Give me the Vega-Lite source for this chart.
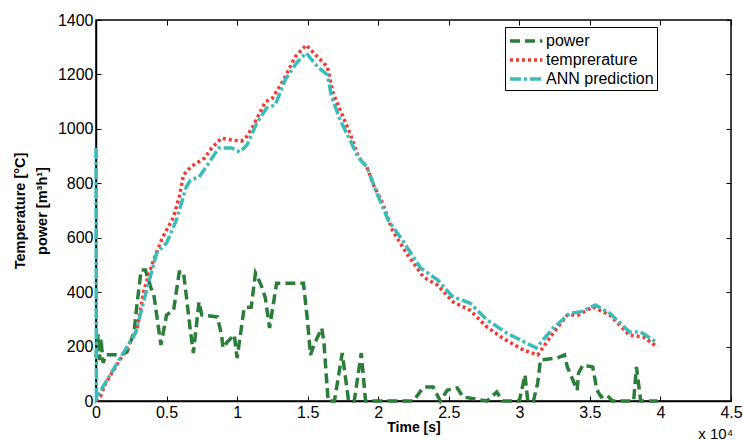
{
  "$schema": "https://vega.github.io/schema/vega-lite/v6.json",
  "width": 635,
  "height": 381,
  "autosize": {"type": "none"},
  "padding": {"left": 96, "top": 20, "right": 12, "bottom": 40},
  "background": "white",
  "config": {
    "font": "Liberation Sans",
    "view": {"stroke": "black", "strokeWidth": 1.5},
    "axis": {"grid": false, "domainColor": "black", "domainWidth": 1.5, "tickColor": "black", "labelColor": "black", "titleColor": "black"}
  },
  "title": {"text": "x 10\u2074", "orient": "bottom", "anchor": "end", "fontSize": 15, "fontWeight": "normal", "offset": -7, "dx": -9, "color": "black"},
  "data": {"values": [
    {"s":"power","t":0.0,"v":160},{"s":"power","t":0.015,"v":245},{"s":"power","t":0.025,"v":150},{"s":"power","t":0.035,"v":230},{"s":"power","t":0.05,"v":140},{"s":"power","t":0.07,"v":170},{"s":"power","t":0.18,"v":170},{"s":"power","t":0.22,"v":180},{"s":"power","t":0.27,"v":254},{"s":"power","t":0.29,"v":353},{"s":"power","t":0.32,"v":481},{"s":"power","t":0.35,"v":481},{"s":"power","t":0.39,"v":415},{"s":"power","t":0.41,"v":390},{"s":"power","t":0.46,"v":206},{"s":"power","t":0.50,"v":316},{"s":"power","t":0.55,"v":334},{"s":"power","t":0.59,"v":474},{"s":"power","t":0.62,"v":474},{"s":"power","t":0.67,"v":254},{"s":"power","t":0.69,"v":176},{"s":"power","t":0.73,"v":364},{"s":"power","t":0.75,"v":316},{"s":"power","t":0.86,"v":309},{"s":"power","t":0.89,"v":243},{"s":"power","t":0.90,"v":195},{"s":"power","t":0.93,"v":217},{"s":"power","t":0.98,"v":243},{"s":"power","t":1.00,"v":158},{"s":"power","t":1.05,"v":342},{"s":"power","t":1.10,"v":345},{"s":"power","t":1.13,"v":470},{"s":"power","t":1.17,"v":426},{"s":"power","t":1.20,"v":379},{"s":"power","t":1.23,"v":268},{"s":"power","t":1.28,"v":433},{"s":"power","t":1.47,"v":433},{"s":"power","t":1.50,"v":290},{"s":"power","t":1.52,"v":169},{"s":"power","t":1.55,"v":213},{"s":"power","t":1.60,"v":268},{"s":"power","t":1.615,"v":217},{"s":"power","t":1.645,"v":0},{"s":"power","t":1.69,"v":0},{"s":"power","t":1.745,"v":176},{"s":"power","t":1.79,"v":0},{"s":"power","t":1.83,"v":0},{"s":"power","t":1.88,"v":176},{"s":"power","t":1.91,"v":0},{"s":"power","t":2.25,"v":0},{"s":"power","t":2.32,"v":51},{"s":"power","t":2.39,"v":51},{"s":"power","t":2.44,"v":0},{"s":"power","t":2.49,"v":40},{"s":"power","t":2.56,"v":48},{"s":"power","t":2.60,"v":15},{"s":"power","t":2.77,"v":0},{"s":"power","t":2.84,"v":33},{"s":"power","t":2.88,"v":0},{"s":"power","t":3.00,"v":0},{"s":"power","t":3.04,"v":96},{"s":"power","t":3.06,"v":0},{"s":"power","t":3.10,"v":0},{"s":"power","t":3.13,"v":66},{"s":"power","t":3.15,"v":151},{"s":"power","t":3.27,"v":158},{"s":"power","t":3.32,"v":169},{"s":"power","t":3.34,"v":125},{"s":"power","t":3.41,"v":40},{"s":"power","t":3.42,"v":103},{"s":"power","t":3.45,"v":132},{"s":"power","t":3.52,"v":125},{"s":"power","t":3.55,"v":40},{"s":"power","t":3.58,"v":15},{"s":"power","t":3.62,"v":22},{"s":"power","t":3.66,"v":0},{"s":"power","t":3.81,"v":0},{"s":"power","t":3.83,"v":125},{"s":"power","t":3.86,"v":0},{"s":"power","t":3.98,"v":0},
    {"s":"temprerature","t":0.0,"v":0},{"s":"temprerature","t":0.03,"v":16},{"s":"temprerature","t":0.07,"v":66},{"s":"temprerature","t":0.18,"v":160},{"s":"temprerature","t":0.29,"v":261},{"s":"temprerature","t":0.34,"v":408},{"s":"temprerature","t":0.40,"v":507},{"s":"temprerature","t":0.47,"v":599},{"s":"temprerature","t":0.55,"v":676},{"s":"temprerature","t":0.59,"v":750},{"s":"temprerature","t":0.62,"v":830},{"s":"temprerature","t":0.67,"v":860},{"s":"temprerature","t":0.77,"v":893},{"s":"temprerature","t":0.82,"v":930},{"s":"temprerature","t":0.89,"v":966},{"s":"temprerature","t":0.96,"v":959},{"s":"temprerature","t":1.03,"v":955},{"s":"temprerature","t":1.06,"v":966},{"s":"temprerature","t":1.11,"v":1007},{"s":"temprerature","t":1.20,"v":1099},{"s":"temprerature","t":1.25,"v":1113},{"s":"temprerature","t":1.33,"v":1180},{"s":"temprerature","t":1.41,"v":1264},{"s":"temprerature","t":1.49,"v":1308},{"s":"temprerature","t":1.57,"v":1264},{"s":"temprerature","t":1.64,"v":1228},{"s":"temprerature","t":1.68,"v":1132},{"s":"temprerature","t":1.76,"v":1033},{"s":"temprerature","t":1.81,"v":970},{"s":"temprerature","t":1.86,"v":897},{"s":"temprerature","t":1.92,"v":860},{"s":"temprerature","t":1.96,"v":801},{"s":"temprerature","t":2.03,"v":727},{"s":"temprerature","t":2.10,"v":628},{"s":"temprerature","t":2.20,"v":543},{"s":"temprerature","t":2.32,"v":456},{"s":"temprerature","t":2.42,"v":426},{"s":"temprerature","t":2.53,"v":364},{"s":"temprerature","t":2.65,"v":334},{"s":"temprerature","t":2.77,"v":272},{"s":"temprerature","t":2.88,"v":232},{"s":"temprerature","t":3.03,"v":187},{"s":"temprerature","t":3.13,"v":169},{"s":"temprerature","t":3.24,"v":250},{"s":"temprerature","t":3.34,"v":316},{"s":"temprerature","t":3.42,"v":316},{"s":"temprerature","t":3.52,"v":346},{"s":"temprerature","t":3.64,"v":316},{"s":"temprerature","t":3.78,"v":242},{"s":"temprerature","t":3.88,"v":235},{"s":"temprerature","t":3.98,"v":198},
    {"s":"ANN prediction","t":0.0,"v":930},{"s":"ANN prediction","t":0.003,"v":10},{"s":"ANN prediction","t":0.07,"v":70},{"s":"ANN prediction","t":0.18,"v":165},{"s":"ANN prediction","t":0.28,"v":250},{"s":"ANN prediction","t":0.35,"v":390},{"s":"ANN prediction","t":0.43,"v":544},{"s":"ANN prediction","t":0.50,"v":581},{"s":"ANN prediction","t":0.57,"v":665},{"s":"ANN prediction","t":0.64,"v":787},{"s":"ANN prediction","t":0.67,"v":812},{"s":"ANN prediction","t":0.73,"v":823},{"s":"ANN prediction","t":0.79,"v":867},{"s":"ANN prediction","t":0.87,"v":930},{"s":"ANN prediction","t":0.96,"v":930},{"s":"ANN prediction","t":1.02,"v":915},{"s":"ANN prediction","t":1.07,"v":941},{"s":"ANN prediction","t":1.14,"v":1022},{"s":"ANN prediction","t":1.21,"v":1077},{"s":"ANN prediction","t":1.27,"v":1088},{"s":"ANN prediction","t":1.34,"v":1180},{"s":"ANN prediction","t":1.42,"v":1242},{"s":"ANN prediction","t":1.49,"v":1279},{"s":"ANN prediction","t":1.57,"v":1228},{"s":"ANN prediction","t":1.64,"v":1198},{"s":"ANN prediction","t":1.67,"v":1117},{"s":"ANN prediction","t":1.73,"v":1033},{"s":"ANN prediction","t":1.81,"v":948},{"s":"ANN prediction","t":1.86,"v":893},{"s":"ANN prediction","t":1.92,"v":860},{"s":"ANN prediction","t":1.99,"v":764},{"s":"ANN prediction","t":2.07,"v":665},{"s":"ANN prediction","t":2.18,"v":584},{"s":"ANN prediction","t":2.30,"v":489},{"s":"ANN prediction","t":2.42,"v":445},{"s":"ANN prediction","t":2.53,"v":382},{"s":"ANN prediction","t":2.65,"v":360},{"s":"ANN prediction","t":2.77,"v":298},{"s":"ANN prediction","t":2.91,"v":250},{"s":"ANN prediction","t":3.05,"v":213},{"s":"ANN prediction","t":3.12,"v":195},{"s":"ANN prediction","t":3.24,"v":268},{"s":"ANN prediction","t":3.36,"v":323},{"s":"ANN prediction","t":3.43,"v":327},{"s":"ANN prediction","t":3.54,"v":353},{"s":"ANN prediction","t":3.64,"v":323},{"s":"ANN prediction","t":3.78,"v":254},{"s":"ANN prediction","t":3.86,"v":254},{"s":"ANN prediction","t":3.98,"v":213}
  ]},
  "encoding": {
    "x": {"field": "t", "type": "quantitative", "scale": {"domain": [0, 4.5], "nice": false, "zero": false}},
    "y": {"field": "v", "type": "quantitative", "scale": {"domain": [0, 1400], "nice": false}},
    "color": {"field": "s", "type": "nominal", "scale": {"domain": ["power", "temprerature", "ANN prediction"], "range": ["#2b7e38", "#f23a33", "#3bbcbb"]}, "legend": null},
    "strokeDash": {"field": "s", "type": "nominal", "scale": {"domain": ["power", "temprerature", "ANN prediction"], "range": [[10, 5], [3, 3], [11, 3, 3, 3]]}, "legend": null}
  },
  "layer": [
    {
      "transform": [{"filter": "datum.s === 'power'"}],
      "mark": {"type": "line", "strokeWidth": 3.5, "strokeCap": "butt"},
      "encoding": {
        "x": {"field": "t", "type": "quantitative", "axis": {"orient": "bottom", "title": "Time [s]", "titleFontSize": 14, "titleFontWeight": "bold", "titlePadding": 0, "labelFontSize": 16, "tickSize": -5, "labelPadding": 8, "values": [0, 0.5, 1, 1.5, 2, 2.5, 3, 3.5, 4, 4.5], "labelExpr": "datum.value", "labelFlush": false, "labelOverlap": false}},
        "y": {"field": "v", "type": "quantitative", "axis": {"orient": "left", "title": ["Temperature [\u00b0C]", "power [m\u00b3h\u00b9]"], "titleFontSize": 14.5, "titleFontWeight": "bold", "titleLineHeight": 22, "titlePadding": 8, "labelFontSize": 16, "tickSize": -5, "labelPadding": 8, "values": [0, 200, 400, 600, 800, 1000, 1200, 1400], "labelExpr": "datum.value", "labelFlush": false, "labelOverlap": false}},
        "color": {"field": "s", "type": "nominal", "scale": {"domain": ["power", "temprerature", "ANN prediction"], "range": ["#2b7e38", "#f23a33", "#3bbcbb"]}, "legend": {"title": null, "orient": "none", "legendX": 409, "legendY": 7, "strokeColor": "black", "fillColor": "white", "padding": 3, "symbolType": "M-1,0H2.6", "symbolSize": 324, "symbolStrokeWidth": 3.5, "labelFontSize": 16, "labelColor": "black", "labelOffset": 16, "rowPadding": 0, "cornerRadius": 0}},
        "strokeDash": {"field": "s", "type": "nominal", "scale": {"domain": ["power", "temprerature", "ANN prediction"], "range": [[10, 5], [3, 3], [11, 3, 3, 3]]}, "legend": {"title": null, "orient": "none", "legendX": 409, "legendY": 7, "strokeColor": "black", "fillColor": "white", "padding": 3, "symbolType": "M-1,0H2.6", "symbolSize": 324, "symbolStrokeWidth": 3.5, "labelFontSize": 16, "labelColor": "black", "labelOffset": 16, "rowPadding": 0, "cornerRadius": 0}}
      }
    },
    {
      "transform": [{"filter": "datum.s === 'temprerature'"}],
      "mark": {"type": "line", "strokeWidth": 3.5, "strokeCap": "butt"},
      "encoding": {
        "x": {"field": "t", "type": "quantitative", "axis": null},
        "y": {"field": "v", "type": "quantitative", "axis": null}
      }
    },
    {
      "transform": [{"filter": "datum.s === 'ANN prediction'"}],
      "mark": {"type": "line", "strokeWidth": 3.5, "strokeCap": "butt"},
      "encoding": {
        "x": {"field": "t", "type": "quantitative", "axis": {"orient": "top", "title": null, "labels": false, "tickSize": -5, "domain": false, "values": [0, 0.5, 1, 1.5, 2, 2.5, 3, 3.5, 4, 4.5]}},
        "y": {"field": "v", "type": "quantitative", "axis": {"orient": "right", "title": null, "labels": false, "tickSize": -5, "domain": false, "values": [0, 200, 400, 600, 800, 1000, 1200, 1400]}}
      }
    }
  ],
  "resolve": {"axis": {"x": "independent", "y": "independent"}}
}
